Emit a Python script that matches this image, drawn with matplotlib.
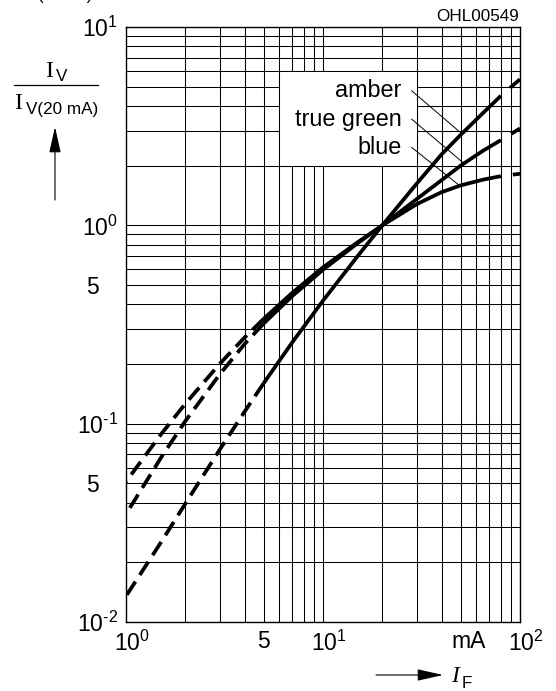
import numpy as np
import matplotlib
matplotlib.use("Agg")
import matplotlib.pyplot as plt
from matplotlib.patches import Rectangle, FancyArrowPatch
from matplotlib.ticker import FixedLocator, FixedFormatter, NullFormatter
from matplotlib.transforms import ScaledTranslation

plt.rcParams['font.family'] = ['Liberation Sans', 'DejaVu Sans']
plt.rcParams['mathtext.fontset'] = 'custom'
plt.rcParams['mathtext.rm'] = 'Liberation Sans'
plt.rcParams['mathtext.it'] = 'Liberation Sans:italic'
plt.rcParams['mathtext.default'] = 'regular'

# ---------------- data ----------------
amber_x = [1, 1.5, 2, 3, 4, 5, 7, 10, 15, 20, 30, 40, 50, 65, 80, 100]
amber_y = [0.0135, 0.0251, 0.0395, 0.0743, 0.115, 0.160, 0.258, 0.417, 0.70, 1.0,
           1.63, 2.28, 2.86, 3.69, 4.5, 5.45]

green_x = [1, 1.5, 2, 3, 4, 5, 7, 10, 15, 20, 30, 40, 50, 65, 80, 100]
green_y = [0.035, 0.067, 0.103, 0.178, 0.252, 0.320, 0.441, 0.597, 0.813, 1.0,
           1.36, 1.69, 2.0, 2.38, 2.69, 3.08]

blue_x = [1, 1.5, 2, 3, 4, 5, 7, 10, 15, 20, 30, 40, 50, 65, 80, 100]
blue_y = [0.051, 0.088, 0.126, 0.201, 0.272, 0.338, 0.458, 0.614, 0.822, 1.0,
          1.28, 1.47, 1.59, 1.70, 1.77, 1.82]

series_names = ["amber", "true green", "blue"]
dash_below = 5      # curves dashed below this current (mA)
dash_above = 80     # curves dashed above this current (mA)

x_tick_vals = [1, 5, 10, 100]
x_tick_labels = [r'$\mathregular{10^{0}}$', '5', r'$\mathregular{10^{1}}$', r'$\mathregular{10^{2}}$']
x_minor_vals = [2, 3, 4, 6, 7, 8, 9, 20, 30, 40, 50, 60, 70, 80, 90]
y_tick_vals = [0.01, 0.05, 0.1, 0.5, 1, 10]
y_tick_labels = [r'$\mathregular{10^{\text{-}2}}$', '5', r'$\mathregular{10^{\text{-}1}}$', '5',
                 r'$\mathregular{10^{0}}$', r'$\mathregular{10^{1}}$']
y_minor_vals = [0.02, 0.03, 0.04, 0.06, 0.07, 0.08, 0.09,
                0.2, 0.3, 0.4, 0.6, 0.7, 0.8, 0.9,
                2, 3, 4, 5, 6, 7, 8, 9]

# label box / leader lines (annotation geometry, data coords)
box_x = (6, 30)
box_y = (2, 6)
label_x = 25.1
label_y = [4.42, 3.17, 2.30]
leader_start = [(28.2, 4.77), (28.2, 3.43), (28.2, 2.47)]
leader_end = [(50.6, 2.9), (52, 2.05), (49.2, 1.59)]

# ---------------- figure ----------------
W, H = 556, 691
fig = plt.figure(figsize=(W / 100, H / 100), dpi=100)
fig.patch.set_facecolor('white')


def P(px, py):
    return (px / W, 1 - py / H)


L, R, T, B = 126, 520, 27, 622
ax = fig.add_axes([L / W, 1 - B / H, (R - L) / W, (B - T) / H])
ax.set_xscale('log')
ax.set_yscale('log')
ax.set_xlim(1, 100)
ax.set_ylim(0.01, 10)

ax.xaxis.set_major_locator(FixedLocator(x_tick_vals))
ax.xaxis.set_major_formatter(FixedFormatter(x_tick_labels))
ax.xaxis.set_minor_locator(FixedLocator(x_minor_vals))
ax.xaxis.set_minor_formatter(NullFormatter())
ax.yaxis.set_major_locator(FixedLocator(y_tick_vals))
ax.yaxis.set_major_formatter(FixedFormatter(y_tick_labels))
ax.yaxis.set_minor_locator(FixedLocator(y_minor_vals))
ax.yaxis.set_minor_formatter(NullFormatter())

ax.set_axisbelow(True)
ax.grid(which='both', color='black', lw=0.75)
ax.tick_params(which='both', length=0, labelsize=16.5, colors='black')
ax.tick_params(axis='x', pad=6)
ax.tick_params(axis='y', pad=6)
for s in ax.spines.values():
    s.set_linewidth(1.0)
    s.set_color('black')

# shift tick labels to mimic reference placement
for t, lab in zip(ax.xaxis.get_major_ticks(), x_tick_labels):
    if lab != '5':
        t.label1.set_transform(t.label1.get_transform() + ScaledTranslation(0.06, 0, fig.dpi_scale_trans))
for t, lab in zip(ax.yaxis.get_major_ticks(), y_tick_labels):
    if lab == '5':
        t.label1.set_transform(t.label1.get_transform() + ScaledTranslation(-0.19, 0, fig.dpi_scale_trans))

# white label box
ax.add_patch(Rectangle((box_x[0], box_y[0]), box_x[1] - box_x[0], box_y[1] - box_y[0],
                       facecolor='white', edgecolor='black', lw=0.75, zorder=1))

# curves
LW = 2.7
for xs, ys in [(amber_x, amber_y), (green_x, green_y), (blue_x, blue_y)]:
    xs = np.asarray(xs, float)
    ys = np.asarray(ys, float)
    lo = xs <= dash_below
    mid = (xs >= dash_below) & (xs <= dash_above)
    hi = xs >= dash_above
    ax.plot(xs[lo][::-1], ys[lo][::-1], color='black', lw=LW,
            linestyle=(0, (4.2, 2.1)), dash_capstyle='butt', zorder=3)
    ax.plot(xs[mid], ys[mid], color='black', lw=LW, solid_capstyle='butt',
            solid_joinstyle='round', zorder=3)
    ax.plot(xs[hi], ys[hi], color='black', lw=LW,
            linestyle=(3.6, (3.6, 3.2)), dash_capstyle='butt', zorder=3)

# labels and leaders
for name, ly, (sx, sy), (ex, ey) in zip(series_names, label_y, leader_start, leader_end):
    ax.text(label_x, ly, name, ha='right', va='baseline', fontsize=16.8, zorder=4)
    ax.plot([sx, ex], [sy, ey], color='black', lw=0.7, zorder=3.5)

# "mA" unit near x axis
ax.text(55, -8 / (B - T), 'mA', transform=ax.get_xaxis_transform(),
        ha='center', va='top', fontsize=16.5)

# code
fig.text(*P(519, 21), 'OHL00549', ha='right', va='baseline', fontsize=12.3)

# header text at top-left (mostly outside the picture, as in the reference)
fig.text(*P(65, 0), '(25 °C)', ha='center', va='baseline', fontsize=12.3)

# y-axis label: fraction
fig.text(*P(45, 77), 'I', family='Liberation Serif', fontsize=17, ha='left', va='baseline')
fig.text(*P(56, 81), 'V', fontsize=12.3, ha='left', va='baseline')
fig.add_artist(plt.Line2D([14 / W, 98 / W], [1 - 85 / H, 1 - 85 / H], color='black', lw=0.9,
                          transform=fig.transFigure))
fig.text(*P(14, 109), 'I', family='Liberation Serif', fontsize=17, ha='left', va='baseline')
fig.text(*P(26, 114), 'V(20 mA)', fontsize=12.3, ha='left', va='baseline')
fig.add_artist(FancyArrowPatch(P(55, 200), P(55, 127), transform=fig.transFigure,
                               arrowstyle='-|>,head_length=16,head_width=3.6',
                               mutation_scale=1, color='black', lw=0.8,
                               shrinkA=0, shrinkB=0))

# x-axis label
fig.add_artist(FancyArrowPatch(P(376, 675), P(443, 675), transform=fig.transFigure,
                               arrowstyle='-|>,head_length=16,head_width=3.6',
                               mutation_scale=1, color='black', lw=0.8,
                               shrinkA=0, shrinkB=0))
fig.text(*P(451, 682), 'I', family='Liberation Serif', style='italic', fontsize=17,
         ha='left', va='baseline')
fig.text(*P(462, 688), 'F', fontsize=12.3, ha='left', va='baseline')

fig.savefig('out.png', dpi=100, facecolor='white')
